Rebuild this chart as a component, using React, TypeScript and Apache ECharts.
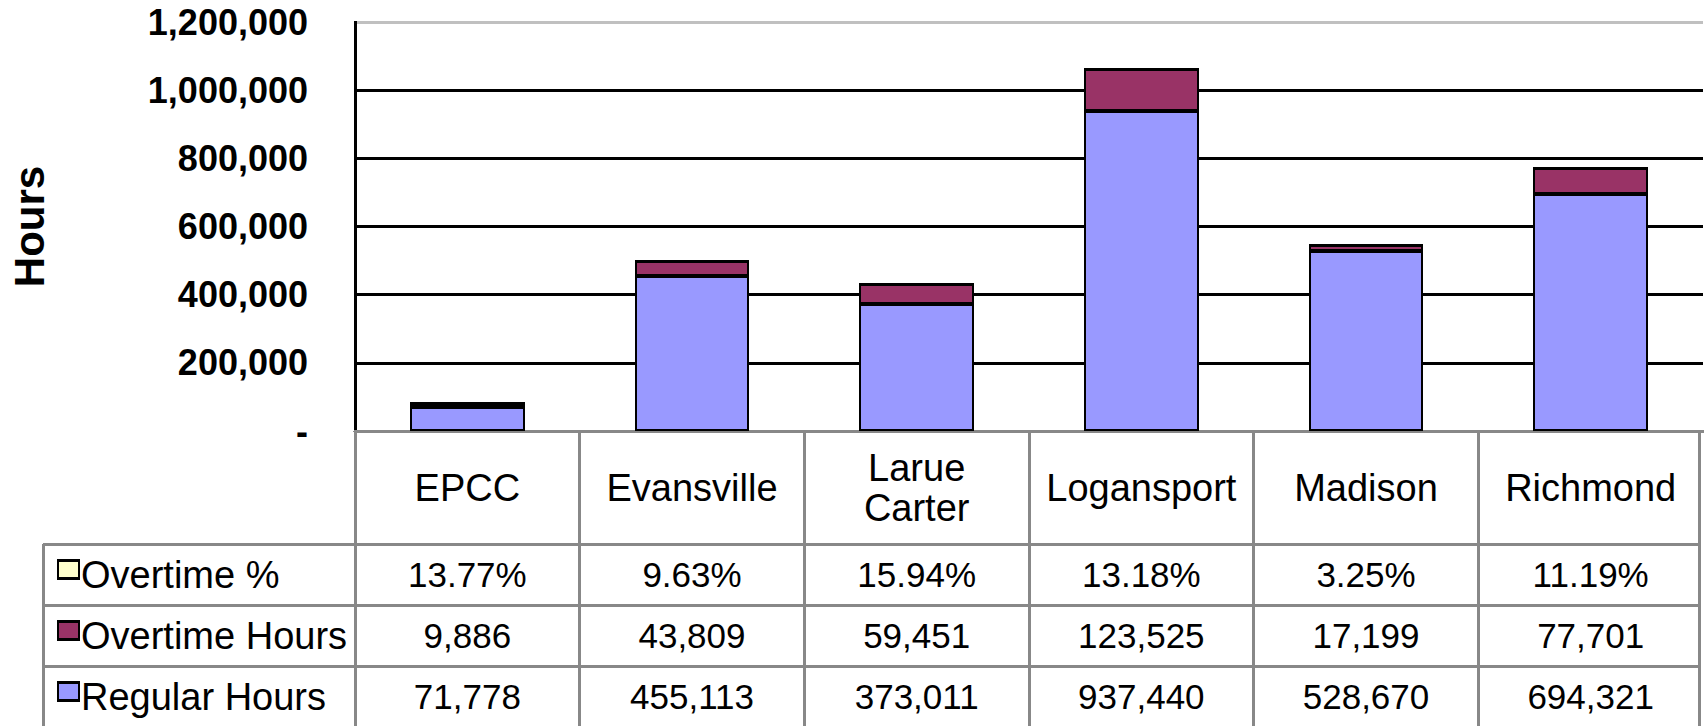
import React, { useEffect, useRef } from "react";
import * as echarts from "echarts";

const categories = ["EPCC", "Evansville", "Larue\nCarter", "Logansport", "Madison", "Richmond"];
const regularHours = [71778, 455113, 373011, 937440, 528670, 694321];
const overtimeHours = [9886, 43809, 59451, 123525, 17199, 77701];
const overtimePct = [13.77, 9.63, 15.94, 13.18, 3.25, 11.19];
const yMin = 0;
const yMax = 1200000;
const yInterval = 200000;

const COLOR_REG = "#9999FF";
const COLOR_OT = "#993366";
const COLOR_PCT = "#FFFFCC";

const fmtInt = (v: number) => v.toLocaleString("en-US");

const tableRows = [
  { name: "Overtime %", color: COLOR_PCT, values: overtimePct.map((v) => v.toFixed(2) + "%") },
  { name: "Overtime Hours", color: COLOR_OT, values: overtimeHours.map(fmtInt) },
  { name: "Regular Hours", color: COLOR_REG, values: regularHours.map(fmtInt) },
];

export default function App() {
  const ref = useRef<HTMLDivElement>(null);
  useEffect(() => {
    document.body.style.margin = "0";
    const chart = echarts.init(ref.current!, null, { renderer: "svg" });
    const gridLeft = 353;
    const gridTop = 22;
    const gridRight = 4;
    const gridBottomY = 431;
    chart.setOption({
      animation: false,
      grid: { left: gridLeft, top: gridTop, right: gridRight, bottom: 726 - gridBottomY, containLabel: false },
      xAxis: {
        type: "category",
        data: categories,
        axisLine: { show: true, lineStyle: { color: "#888", width: 3 } },
        axisTick: { show: false },
        axisLabel: { show: false },
      },
      yAxis: {
        type: "value",
        min: yMin,
        max: yMax,
        interval: yInterval,
        name: "Hours",
        nameLocation: "middle",
        nameGap: 305,
        nameTextStyle: { fontSize: 42, fontWeight: "bold", color: "#000", fontFamily: "Arial" },
        axisLine: { show: true, lineStyle: { color: "#000", width: 3 } },
        axisTick: { show: false },
        axisLabel: {
          formatter: (v: number) => (v === 0 ? "-" : fmtInt(v)),
          fontSize: 36,
          fontWeight: "bold",
          color: "#000",
          fontFamily: "Arial",
          margin: 47,
        },
        splitLine: {
          show: true,
          lineStyle: { color: ["#888", "#000", "#000", "#000", "#000", "#000", "#c0c0c0"], width: 3 },
        },
      },
      series: [
        {
          name: "Regular Hours",
          type: "bar",
          stack: "total",
          data: regularHours,
          barWidth: "51%",
          itemStyle: { color: COLOR_REG, borderColor: "#000", borderWidth: 2 },
        },
        {
          name: "Overtime Hours",
          type: "bar",
          stack: "total",
          data: overtimeHours,
          itemStyle: { color: COLOR_OT, borderColor: "#000", borderWidth: 2 },
        },
        {
          name: "Overtime %",
          type: "bar",
          stack: "total",
          data: overtimePct,
          itemStyle: { color: COLOR_PCT, borderColor: "#000", borderWidth: 2 },
        },
      ],
    });

    const n = categories.length;
    const centers = categories.map((_, i) => chart.convertToPixel({ xAxisIndex: 0 }, i) as number);
    const step = n > 1 ? centers[1] - centers[0] : 200;
    const bounds: number[] = [];
    for (let i = 0; i <= n; i++) bounds.push(centers[0] - step / 2 + i * step);
    const tableLeft = 43;
    const tableRight = 1699;
    const headerBottom = 544;
    const rowYs = [544, 605, 666, 727];
    const bottomY = 726;
    const lineStyle = { stroke: "#888", lineWidth: 3 };
    const g: any[] = [];
    bounds.slice(0, n).forEach((x) => {
      g.push({ type: "line", shape: { x1: x, y1: gridBottomY, x2: x, y2: bottomY }, style: lineStyle });
    });
    g.push({ type: "line", shape: { x1: tableRight, y1: gridBottomY, x2: tableRight, y2: bottomY }, style: lineStyle });
    g.push({ type: "line", shape: { x1: tableLeft, y1: headerBottom, x2: tableLeft, y2: bottomY }, style: lineStyle });
    rowYs.slice(0, 3).forEach((y) => {
      g.push({ type: "line", shape: { x1: tableLeft, y1: y, x2: tableRight, y2: y }, style: lineStyle });
    });
    const textBase = { fill: "#000", fontFamily: "Arial", align: "center", verticalAlign: "middle" };
    categories.forEach((c, i) => {
      g.push({
        type: "text",
        x: centers[i],
        y: (gridBottomY + headerBottom) / 2,
        style: { ...textBase, fontSize: 38, text: c, lineHeight: 40 },
      });
    });
    tableRows.forEach((row, r) => {
      const cy = (rowYs[r] + rowYs[r + 1]) / 2;
      g.push({
        type: "rect",
        shape: { x: 0, y: 0, width: 21, height: 18 },
        x: 58,
        y: cy - 14,
        style: { fill: row.color, stroke: "#000", lineWidth: 2.5 },
      });
      g.push({
        type: "text",
        x: 81,
        y: cy,
        style: { ...textBase, fontSize: 38, text: row.name, align: "left" },
      });
      row.values.forEach((v, i) => {
        g.push({ type: "text", x: centers[i], y: cy, style: { ...textBase, fontSize: 35, text: v } });
      });
    });
    chart.setOption({ graphic: { elements: g } });
    return () => chart.dispose();
  }, []);
  return (
    <>
      <style>{".chartbox svg path { shape-rendering: crispEdges; }"}</style>
      <div className="chartbox" ref={ref} style={{ width: 1707, height: 726, overflow: "hidden" }} />
    </>
  );
}
